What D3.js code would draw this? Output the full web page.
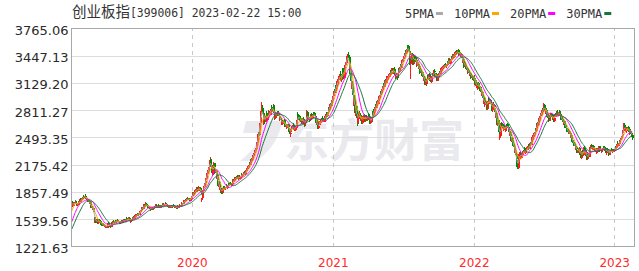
<!DOCTYPE html>
<html>
<head>
<meta charset="utf-8">
<script src="https://cdn.jsdelivr.net/npm/d3@7"></script>
<style>
  body { margin: 0; background: #fff; }
  svg { display: block; }
</style>
</head>
<body>
<svg id="chart" width="639" height="271"></svg>
<script>
// closes before the first visible day, only used to warm up the moving averages
var preCloses = [1262,1255,1240,1258,1266,1250,1230,1245,1263,1290,1335,1348,1372,1368,1352,1402,1390,1396,1405,1455,1560,1548,1536,1566,1612,1668,1702,1738,1748];

// daily candles [open, high, low, close], one list per calendar year
var k2019 = [
[1745,1752,1680,1690],[1692,1720,1685,1712],[1710,1738,1702,1731],[1728,1745,1715,1722],[1720,1735,1698,1730],
[1733,1760,1725,1752],[1750,1758,1712,1718],[1715,1722,1690,1700],[1702,1730,1695,1726],[1724,1731,1698,1705],
[1708,1728,1700,1722],[1720,1752,1716,1748],[1750,1770,1740,1762],[1758,1766,1735,1740],[1742,1768,1738,1765],
[1768,1785,1755,1760],[1762,1790,1758,1786],[1788,1802,1770,1778],[1775,1798,1768,1795],[1797,1812,1788,1806],
[1808,1822,1790,1795],[1792,1815,1785,1812],[1815,1830,1800,1808],[1805,1812,1770,1776],[1778,1798,1768,1792],
[1790,1806,1772,1780],[1776,1782,1738,1745],[1748,1770,1740,1762],[1760,1768,1742,1750],[1752,1758,1712,1720],
[1722,1745,1715,1738],[1735,1742,1700,1706],[1704,1712,1672,1680],[1682,1700,1668,1690],[1688,1692,1650,1658],
[1660,1682,1652,1675],[1672,1680,1638,1645],[1648,1665,1622,1627],[1560,1565,1505,1510],[1515,1540,1500,1532],
[1528,1535,1490,1498],[1500,1530,1495,1525],[1522,1545,1510,1540],[1538,1548,1512,1518],[1515,1520,1485,1490],
[1492,1515,1485,1510],[1512,1532,1505,1528],[1530,1540,1515,1520],[1518,1525,1490,1495],[1496,1508,1478,1482],
[1484,1500,1476,1495],[1493,1498,1466,1470],[1472,1490,1465,1486],[1488,1496,1470,1475],[1474,1480,1455,1460],
[1462,1478,1450,1472],[1470,1482,1458,1463],[1460,1465,1440,1446],[1448,1462,1438,1455],[1452,1458,1432,1438],
[1440,1470,1436,1466],[1470,1500,1465,1495],[1497,1508,1485,1490],[1488,1495,1470,1476],[1478,1486,1462,1470],
[1468,1480,1452,1458],[1460,1468,1440,1447],[1450,1482,1446,1478],[1480,1505,1475,1500],[1502,1512,1490,1495],
[1494,1520,1488,1516],[1518,1530,1505,1510],[1508,1515,1492,1498],[1500,1516,1494,1512],[1514,1530,1508,1525],
[1523,1528,1500,1504],[1506,1520,1498,1515],[1516,1535,1510,1530],[1532,1545,1520,1526],[1524,1530,1505,1510],
[1512,1526,1502,1522],[1520,1524,1498,1502],[1500,1508,1486,1492],[1494,1512,1490,1508],[1510,1528,1505,1524],
[1525,1532,1512,1516],[1514,1520,1496,1500],[1502,1518,1495,1514],[1516,1534,1510,1530],[1532,1545,1522,1540],
[1538,1544,1518,1522],[1520,1528,1505,1510],[1512,1530,1508,1527],[1528,1552,1524,1548],[1550,1560,1535,1540],
[1538,1546,1525,1530],[1532,1550,1528,1546],[1548,1566,1542,1560],[1558,1565,1538,1542],[1540,1548,1520,1525],
[1522,1530,1500,1506],[1505,1520,1490,1515],[1518,1540,1512,1536],[1538,1556,1530,1552],[1554,1570,1546,1565],
[1566,1580,1552,1558],[1555,1562,1538,1545],[1547,1568,1542,1563],[1565,1590,1560,1586],[1588,1605,1578,1598],
[1596,1602,1575,1580],[1578,1590,1565,1585],[1588,1612,1582,1608],[1610,1618,1595,1600],[1598,1605,1580,1588],
[1590,1622,1586,1618],[1620,1640,1612,1635],[1636,1645,1620,1626],[1624,1650,1618,1646],[1648,1672,1642,1668],
[1670,1685,1660,1678],[1676,1682,1652,1660],[1662,1690,1656,1686],[1688,1712,1680,1706],[1708,1722,1695,1700],
[1698,1705,1680,1688],[1690,1716,1684,1712],[1714,1735,1706,1725],[1722,1730,1700,1705],[1703,1712,1685,1692],
[1690,1698,1670,1676],[1678,1700,1672,1696],[1698,1706,1680,1684],[1682,1688,1660,1665],[1667,1680,1650,1656],
[1655,1668,1640,1662],[1664,1672,1645,1650],[1652,1678,1648,1674],[1676,1688,1665,1670],[1668,1675,1648,1655],
[1657,1685,1652,1682],[1684,1698,1676,1692],[1690,1696,1670,1675],[1677,1695,1670,1690],[1692,1712,1686,1705],
[1706,1716,1690,1696],[1694,1700,1675,1680],[1682,1702,1676,1698],[1700,1712,1688,1692],[1690,1694,1668,1672],
[1674,1690,1668,1686],[1688,1705,1682,1700],[1702,1710,1688,1694],[1692,1698,1672,1678],[1680,1696,1674,1690],
[1692,1718,1688,1714],[1716,1732,1708,1724],[1722,1728,1700,1706],[1704,1712,1690,1698],[1700,1722,1695,1718],
[1720,1738,1712,1730],[1728,1734,1708,1712],[1710,1716,1690,1695],[1697,1712,1690,1706],[1708,1714,1688,1692],
[1690,1696,1672,1678],[1680,1698,1676,1694],[1696,1702,1680,1684],[1682,1690,1668,1672],[1674,1692,1670,1688],
[1690,1706,1684,1702],[1704,1710,1690,1694],[1692,1698,1675,1680],[1682,1700,1678,1696],[1698,1712,1692,1708],
[1706,1712,1690,1694],[1692,1696,1670,1674],[1676,1690,1668,1686],[1688,1694,1672,1676],[1674,1680,1660,1666],
[1668,1686,1664,1682],[1684,1700,1680,1696],[1698,1704,1684,1688],[1686,1692,1670,1675],[1677,1698,1672,1694],
[1696,1712,1690,1705],[1703,1708,1686,1690],[1688,1704,1684,1700],[1702,1722,1698,1718],[1720,1735,1712,1728],
[1726,1732,1710,1716],[1718,1745,1714,1740],[1742,1760,1735,1752],[1750,1756,1732,1738],[1740,1768,1736,1764],
[1766,1780,1756,1772],[1770,1776,1752,1758],[1760,1782,1755,1778],[1780,1795,1770,1786],[1784,1790,1762,1768],
[1770,1785,1760,1780],[1782,1792,1765,1770],[1768,1775,1750,1756],[1758,1778,1752,1774],[1776,1790,1768,1784],
[1786,1800,1778,1792],[1790,1805,1782,1798]
];

var k2020 = [
[1810,1845,1805,1840],[1842,1860,1830,1852],[1850,1858,1825,1832],[1830,1852,1822,1848],[1850,1878,1845,1872],
[1870,1880,1850,1858],[1856,1890,1852,1885],[1888,1915,1880,1905],[1903,1910,1880,1886],[1884,1895,1862,1870],
[1872,1898,1866,1894],[1896,1922,1890,1915],[1912,1920,1885,1890],[1888,1908,1870,1902],[1900,1906,1862,1868],
[1866,1875,1838,1845],[1760,1790,1745,1782],[1790,1840,1785,1835],[1838,1875,1832,1870],[1872,1905,1865,1898],
[1900,1925,1890,1918],[1920,1960,1912,1955],[1958,1995,1950,1990],[1992,2020,1980,2012],[2010,2040,1998,2035],
[2038,2075,2030,2070],[2072,2110,2060,2102],[2100,2130,2085,2095],[2098,2150,2090,2145],[2148,2190,2140,2182],
[2185,2230,2175,2215],[2218,2270,2205,2238],[2230,2250,2160,2175],[2170,2180,2080,2090],[2085,2110,2040,2055],
[2065,2130,2060,2125],[2128,2175,2120,2168],[2170,2205,2150,2195],[2192,2200,2140,2150],[2120,2135,2070,2080],
[2085,2120,2075,2110],[2105,2112,2040,2050],[2045,2070,2010,2060],[2055,2065,1990,2000],[1990,2010,1930,1945],
[1950,1990,1920,1975],[1970,1980,1890,1898],[1895,1925,1875,1912],[1905,1912,1850,1860],[1866,1905,1858,1898],
[1892,1898,1845,1852],[1848,1870,1836,1845],[1850,1905,1846,1900],[1905,1930,1890,1922],[1918,1925,1880,1888],
[1885,1915,1878,1910],[1908,1925,1895,1902],[1900,1915,1880,1912],[1915,1948,1910,1940],[1942,1955,1925,1932],
[1930,1940,1905,1915],[1912,1925,1895,1920],[1922,1955,1918,1950],[1952,1968,1935,1945],[1943,1960,1928,1955],
[1956,1975,1945,1968],[1966,1972,1940,1948],[1946,1958,1925,1932],[1930,1952,1924,1948],[1950,1985,1945,1980],
[1982,2005,1975,1998],[1996,2010,1975,1985],[1983,2015,1978,2010],[2012,2035,2005,2025],[2023,2030,2000,2008],
[2006,2018,1990,2015],[2018,2045,2012,2040],[2042,2055,2025,2032],[2030,2038,2005,2012],[2010,2028,2002,2022],
[2025,2050,2018,2045],[2046,2060,2030,2036],[2034,2040,2010,2018],[2016,2048,2012,2044],[2046,2072,2040,2068],
[2070,2080,2050,2058],[2056,2062,2030,2040],[2042,2070,2038,2066],[2068,2092,2060,2085],[2087,2098,2068,2075],
[2073,2080,2052,2060],[2062,2090,2058,2088],[2090,2118,2084,2112],[2114,2125,2095,2102],[2100,2135,2096,2130],
[2132,2155,2125,2148],[2150,2162,2130,2138],[2136,2170,2132,2165],[2168,2195,2160,2188],[2190,2205,2170,2180],
[2178,2215,2172,2210],[2212,2245,2205,2238],[2240,2255,2220,2232],[2230,2272,2225,2265],[2268,2295,2258,2288],
[2290,2302,2268,2275],[2272,2318,2268,2312],[2315,2345,2305,2338],[2340,2352,2318,2325],[2322,2368,2318,2362],
[2365,2392,2355,2385],[2388,2440,2380,2432],[2435,2490,2428,2482],[2485,2535,2475,2528],[2530,2560,2505,2518],
[2520,2585,2512,2578],[2582,2660,2575,2652],[2658,2745,2650,2735],[2740,2800,2715,2785],[2790,2860,2775,2812],
[2815,2905,2800,2845],[2840,2870,2770,2790],[2785,2800,2640,2652],[2660,2720,2650,2712],[2715,2760,2700,2748],
[2745,2752,2660,2675],[2680,2740,2672,2730],[2735,2795,2725,2780],[2782,2800,2735,2748],[2745,2760,2690,2702],
[2705,2745,2698,2738],[2740,2785,2732,2775],[2778,2810,2760,2795],[2792,2805,2750,2762],[2760,2795,2752,2788],
[2790,2830,2782,2822],[2825,2860,2810,2848],[2850,2875,2820,2830],[2828,2845,2790,2805],[2808,2885,2800,2870],
[2865,2880,2780,2792],[2788,2800,2700,2712],[2715,2760,2705,2752],[2755,2790,2740,2778],[2780,2795,2740,2750],
[2748,2770,2720,2765],[2768,2800,2755,2790],[2792,2805,2760,2772],[2770,2790,2745,2782],[2785,2800,2740,2748],
[2745,2752,2690,2700],[2702,2730,2690,2722],[2725,2745,2695,2705],[2700,2710,2650,2660],[2662,2690,2640,2682],
[2685,2700,2640,2650],[2648,2680,2635,2672],[2675,2700,2660,2690],[2692,2705,2655,2662],[2660,2668,2615,2625],
[2628,2660,2620,2652],[2655,2672,2628,2635],[2632,2640,2590,2600],[2602,2630,2595,2622],[2625,2650,2612,2640],
[2642,2655,2605,2612],[2610,2615,2555,2565],[2568,2600,2560,2590],[2592,2598,2530,2540],[2535,2560,2500,2550],
[2552,2595,2545,2588],[2590,2625,2580,2615],[2618,2632,2592,2600],[2598,2640,2590,2632],[2635,2660,2620,2628],
[2625,2632,2585,2595],[2592,2615,2570,2608],[2610,2625,2575,2582],[2580,2612,2572,2605],[2608,2640,2600,2635],
[2640,2700,2635,2692],[2695,2770,2690,2762],[2765,2790,2735,2745],[2742,2760,2700,2712],[2710,2738,2690,2728],
[2730,2752,2695,2702],[2700,2725,2680,2718],[2720,2740,2690,2695],[2692,2700,2650,2660],[2662,2690,2652,2682],
[2685,2720,2675,2712],[2715,2730,2690,2698],[2695,2700,2655,2665],[2662,2675,2620,2632],[2635,2668,2628,2660],
[2662,2700,2655,2692],[2695,2765,2690,2755],[2760,2810,2748,2790],[2792,2800,2720,2732],[2730,2745,2690,2705],
[2702,2730,2695,2725],[2728,2745,2700,2710],[2708,2720,2680,2690],[2692,2735,2688,2730],[2732,2770,2725,2762],
[2765,2780,2738,2748],[2745,2760,2715,2722],[2720,2752,2712,2745],[2748,2775,2740,2768],[2770,2790,2750,2758],
[2755,2780,2745,2775],[2778,2795,2740,2750],[2748,2755,2700,2708],[2705,2712,2660,2668],[2665,2690,2640,2682],
[2685,2692,2630,2638],[2635,2640,2590,2602],[2605,2640,2598,2632],[2635,2662,2625,2655],[2658,2680,2640,2648],
[2645,2690,2640,2685],[2688,2712,2670,2702],[2705,2718,2675,2680],[2678,2705,2668,2700],[2702,2730,2695,2722],
[2725,2740,2700,2708],[2705,2712,2670,2678],[2675,2712,2670,2708],[2710,2742,2705,2738],[2740,2760,2722,2735],
[2732,2770,2728,2765],[2768,2790,2745,2752],[2750,2762,2720,2745],[2748,2795,2742,2790],[2792,2830,2785,2822],
[2825,2850,2805,2815],[2812,2860,2808,2855],[2858,2890,2845,2882],[2885,2895,2850,2862],[2860,2905,2855,2898],
[2900,2935,2890,2925],[2928,2945,2900,2915],[2918,2972,2910,2966]
];

var k2021 = [
[2975,3010,2950,2990],[2992,3040,2980,3032],[3035,3060,3010,3020],[3018,3080,3012,3075],[3078,3110,3050,3062],
[3060,3115,3048,3105],[3108,3150,3095,3140],[3142,3160,3100,3112],[3110,3175,3105,3168],[3170,3210,3150,3195],
[3192,3220,3160,3175],[3172,3240,3168,3232],[3235,3268,3210,3222],[3220,3230,3150,3162],[3160,3210,3140,3205],
[3208,3290,3200,3282],[3285,3310,3250,3268],[3265,3300,3220,3240],[3238,3260,3180,3195],[3192,3280,3188,3272],
[3275,3345,3265,3338],[3340,3380,3320,3362],[3365,3400,3340,3392],[3395,3440,3380,3428],[3430,3455,3400,3418],
[3420,3465,3405,3452],[3455,3490,3420,3432],[3430,3445,3330,3345],[3340,3355,3240,3255],[3250,3300,3200,3290],
[3285,3298,3150,3162],[3158,3200,3090,3105],[3100,3150,3060,3138],[3135,3142,2990,3000],[2995,3020,2890,2905],
[2900,2960,2860,2948],[2950,2985,2900,2912],[2905,2920,2780,2795],[2790,2830,2740,2818],[2820,2880,2790,2860],
[2862,2870,2720,2735],[2730,2760,2630,2652],[2660,2768,2655,2760],[2762,2780,2700,2712],[2708,2790,2700,2782],
[2785,2800,2740,2752],[2750,2765,2690,2702],[2700,2745,2685,2738],[2740,2760,2700,2710],[2705,2712,2650,2660],
[2662,2720,2655,2712],[2715,2740,2690,2728],[2730,2760,2710,2752],[2755,2770,2720,2735],[2732,2740,2680,2690],
[2688,2720,2675,2712],[2715,2750,2705,2742],[2745,2760,2715,2728],[2725,2735,2690,2698],[2695,2740,2690,2735],
[2738,2770,2725,2762],[2765,2780,2730,2740],[2738,2745,2690,2700],[2698,2705,2650,2662],[2660,2700,2655,2695],
[2698,2712,2670,2680],[2682,2735,2678,2730],[2732,2780,2725,2772],[2775,2800,2750,2762],[2760,2805,2752,2798],
[2800,2830,2775,2785],[2782,2845,2778,2838],[2840,2872,2820,2865],[2868,2880,2830,2842],[2840,2890,2835,2885],
[2888,2925,2870,2915],[2918,2930,2880,2892],[2890,2945,2885,2940],[2942,2975,2925,2968],[2970,2985,2930,2945],
[2942,2990,2935,2985],[2988,3030,2975,3022],[3025,3040,2990,3005],[3002,3060,2998,3055],[3058,3085,3035,3048],
[3045,3090,3040,3082],[3085,3120,3070,3110],[3112,3128,3075,3088],[3085,3140,3080,3135],[3138,3170,3120,3160],
[3162,3175,3120,3132],[3130,3180,3125,3172],[3175,3210,3160,3198],[3200,3215,3160,3170],[3168,3215,3160,3208],
[3210,3240,3190,3225],[3228,3240,3190,3198],[3195,3250,3188,3245],[3248,3280,3230,3268],[3270,3285,3235,3242],
[3240,3275,3225,3262],[3265,3305,3250,3295],[3298,3310,3265,3275],[3272,3290,3240,3252],[3250,3300,3245,3292],
[3295,3320,3270,3280],[3278,3285,3225,3235],[3232,3240,3180,3192],[3190,3235,3185,3228],[3230,3245,3195,3205],
[3202,3215,3170,3198],[3200,3250,3195,3245],[3248,3290,3240,3282],[3285,3300,3255,3268],[3265,3320,3260,3315],
[3318,3345,3300,3330],[3332,3348,3300,3312],[3310,3360,3305,3355],[3358,3395,3345,3385],[3388,3400,3360,3372],
[3370,3415,3365,3408],[3410,3450,3400,3440],[3442,3460,3410,3425],[3422,3475,3418,3468],[3470,3505,3455,3492],
[3495,3510,3460,3478],[3475,3530,3470,3522],[3525,3560,3505,3545],[3548,3570,3512,3525],[3522,3575,3515,3562],
[3565,3572,3500,3510],[3508,3520,3440,3455],[3450,3465,3340,3360],[3355,3400,3180,3372],[3375,3440,3365,3430],
[3432,3480,3420,3462],[3465,3478,3400,3412],[3410,3425,3340,3352],[3350,3420,3345,3410],[3412,3445,3395,3438],
[3440,3455,3390,3402],[3400,3440,3385,3428],[3430,3445,3370,3380],[3378,3390,3320,3332],[3330,3375,3322,3368],
[3370,3395,3340,3350],[3348,3360,3290,3302],[3300,3340,3290,3330],[3332,3345,3280,3290],[3288,3300,3240,3250],
[3252,3300,3245,3292],[3295,3310,3260,3270],[3268,3275,3215,3225],[3222,3260,3210,3250],[3252,3262,3200,3208],
[3205,3215,3160,3170],[3168,3200,3155,3192],[3195,3210,3150,3162],[3160,3168,3110,3122],[3120,3160,3105,3152],
[3155,3165,3100,3115],[3112,3175,3108,3168],[3170,3210,3160,3200],[3202,3220,3175,3185],[3182,3235,3178,3228],
[3230,3245,3190,3198],[3195,3205,3150,3160],[3158,3195,3150,3188],[3190,3200,3140,3148],[3145,3170,3125,3162],
[3165,3210,3158,3205],[3208,3250,3200,3242],[3245,3262,3220,3232],[3230,3280,3225,3272],[3275,3290,3240,3252],
[3250,3260,3205,3215],[3212,3240,3200,3235],[3238,3250,3190,3198],[3195,3200,3150,3160],[3158,3195,3150,3190],
[3192,3220,3180,3212],[3215,3240,3195,3205],[3202,3250,3198,3245],[3248,3270,3225,3235],[3232,3275,3228,3268],
[3270,3300,3255,3292],[3295,3305,3262,3272],[3270,3315,3265,3310],[3312,3330,3290,3298],[3295,3325,3285,3320],
[3322,3345,3305,3335],[3338,3350,3310,3318],[3315,3340,3300,3332],[3335,3360,3320,3350],[3352,3365,3320,3328],
[3325,3350,3310,3342],[3345,3380,3338,3372],[3375,3390,3345,3355],[3352,3395,3348,3388],[3390,3420,3378,3410],
[3412,3425,3380,3392],[3390,3400,3350,3362],[3360,3405,3355,3398],[3400,3430,3390,3422],[3425,3440,3400,3412],
[3410,3450,3405,3442],[3445,3470,3430,3455],[3458,3465,3420,3430],[3428,3470,3420,3465],[3468,3495,3455,3482],
[3485,3498,3450,3460],[3458,3495,3450,3488],[3490,3520,3475,3505],[3508,3515,3470,3480],[3478,3510,3470,3500],
[3502,3525,3485,3492],[3490,3500,3450,3462],[3460,3498,3455,3490],[3492,3515,3470,3478],[3475,3482,3430,3440],
[3438,3475,3430,3468],[3470,3480,3420,3428],[3425,3430,3370,3380],[3378,3410,3365,3402],[3405,3420,3360,3368],
[3365,3375,3310,3322],[3320,3360,3312,3352],[3355,3380,3335,3345],[3342,3350,3290,3302],[3300,3330,3282,3318],
[3320,3335,3280,3290],[3288,3295,3240,3252],[3250,3285,3242,3278],[3280,3300,3250,3262],[3260,3268,3210,3220],
[3218,3255,3210,3248],[3250,3262,3220,3230],[3228,3235,3180,3192],[3190,3225,3182,3218],[3220,3240,3195,3205],
[3202,3210,3160,3172],[3170,3200,3158,3192],[3195,3215,3175,3185]
];

var k2022 = [
[3190,3220,3150,3168],[3165,3175,3110,3122],[3120,3150,3095,3142],[3145,3160,3080,3090],[3088,3120,3070,3112],
[3115,3130,3060,3068],[3065,3100,3050,3095],[3098,3140,3090,3130],[3132,3145,3085,3092],[3090,3110,3040,3050],
[3048,3085,3035,3078],[3080,3095,3030,3040],[3038,3045,2980,2992],[2990,3030,2975,3022],[3025,3040,2960,2972],
[2970,2980,2900,2912],[2910,2950,2880,2940],[2942,2955,2870,2880],[2878,2905,2850,2895],[2900,2930,2870,2920],
[2922,2950,2880,2892],[2890,2900,2820,2830],[2828,2880,2815,2872],[2875,2925,2865,2918],[2920,2960,2905,2948],
[2950,2965,2915,2925],[2922,2930,2880,2890],[2888,2935,2880,2930],[2932,2945,2890,2898],[2895,2900,2840,2852],
[2850,2880,2800,2812],[2810,2860,2795,2850],[2852,2890,2840,2882],[2885,2905,2860,2870],[2868,2880,2835,2848],
[2840,2850,2790,2798],[2795,2805,2730,2742],[2740,2790,2725,2782],[2785,2798,2700,2710],[2705,2720,2640,2655],
[2650,2700,2630,2690],[2692,2712,2640,2650],[2660,2670,2560,2568],[2565,2575,2480,2492],[2488,2530,2470,2502],
[2510,2600,2505,2592],[2600,2665,2595,2658],[2655,2670,2615,2625],[2622,2660,2610,2652],[2655,2668,2600,2610],
[2608,2625,2570,2582],[2580,2630,2575,2622],[2625,2640,2590,2598],[2595,2612,2560,2572],[2570,2615,2562,2608],
[2610,2650,2600,2640],[2642,2655,2610,2618],[2615,2660,2605,2652],[2655,2668,2610,2620],[2618,2625,2560,2572],
[2570,2580,2520,2535],[2532,2560,2510,2550],[2552,2565,2500,2508],[2505,2515,2450,2462],[2460,2500,2445,2490],
[2492,2505,2440,2452],[2450,2460,2390,2398],[2395,2430,2380,2425],[2428,2440,2380,2392],[2390,2398,2320,2330],
[2328,2360,2310,2350],[2352,2365,2290,2302],[2300,2310,2230,2240],[2235,2255,2150,2168],[2165,2210,2130,2200],
[2195,2205,2120,2135],[2140,2230,2125,2222],[2225,2300,2215,2290],[2295,2325,2270,2315],[2312,2320,2260,2272],
[2270,2295,2245,2288],[2290,2310,2255,2262],[2260,2300,2250,2295],[2298,2335,2290,2328],[2330,2345,2300,2310],
[2308,2340,2295,2335],[2338,2375,2330,2368],[2370,2385,2340,2350],[2348,2355,2300,2312],[2310,2345,2302,2340],
[2342,2380,2335,2375],[2378,2392,2350,2360],[2358,2400,2350,2395],[2398,2420,2380,2388],[2385,2395,2350,2362],
[2360,2400,2355,2396],[2400,2435,2390,2428],[2430,2445,2400,2412],[2410,2460,2405,2455],[2458,2495,2450,2488],
[2490,2505,2460,2472],[2470,2520,2465,2515],[2518,2545,2505,2538],[2540,2552,2505,2512],[2510,2560,2505,2555],
[2558,2600,2550,2592],[2595,2610,2565,2578],[2575,2630,2570,2625],[2628,2665,2620,2658],[2660,2675,2630,2640],
[2638,2690,2632,2682],[2685,2720,2675,2712],[2715,2730,2680,2692],[2690,2750,2685,2745],[2748,2785,2740,2778],
[2780,2795,2750,2762],[2760,2810,2755,2802],[2805,2830,2785,2815],[2818,2840,2790,2800],[2798,2860,2792,2852],
[2855,2895,2840,2872],[2870,2885,2830,2842],[2840,2850,2790,2800],[2798,2820,2770,2812],[2815,2825,2770,2778],
[2775,2790,2730,2742],[2740,2770,2725,2762],[2765,2780,2720,2730],[2728,2735,2680,2692],[2690,2730,2682,2722],
[2725,2760,2715,2752],[2755,2770,2730,2740],[2738,2775,2732,2768],[2770,2785,2740,2748],[2745,2752,2700,2712],
[2710,2745,2702,2738],[2740,2760,2715,2725],[2722,2730,2680,2690],[2688,2730,2680,2725],[2728,2765,2720,2758],
[2760,2775,2735,2745],[2742,2780,2738,2772],[2775,2800,2760,2790],[2792,2810,2770,2778],[2775,2785,2740,2752],
[2750,2790,2745,2782],[2785,2805,2765,2795],[2798,2810,2770,2775],[2772,2780,2730,2738],[2735,2745,2695,2705],
[2702,2740,2695,2732],[2735,2748,2700,2712],[2710,2720,2670,2680],[2678,2700,2640,2652],[2650,2690,2642,2685],
[2688,2700,2650,2660],[2658,2665,2610,2620],[2618,2650,2605,2642],[2645,2655,2600,2610],[2608,2615,2560,2572],
[2570,2600,2555,2592],[2595,2610,2560,2568],[2565,2580,2530,2545],[2542,2575,2535,2570],[2572,2585,2540,2550],
[2548,2555,2500,2510],[2508,2530,2485,2522],[2525,2535,2480,2490],[2488,2495,2440,2452],[2450,2475,2435,2468],
[2470,2480,2430,2440],[2438,2445,2395,2405],[2402,2435,2395,2428],[2430,2440,2390,2398],[2395,2400,2350,2362],
[2360,2392,2352,2385],[2388,2395,2345,2355],[2352,2360,2310,2320],[2318,2350,2310,2345],[2348,2365,2325,2332],
[2330,2372,2322,2365],[2368,2378,2340,2352],[2345,2350,2290,2298],[2295,2305,2250,2262],[2260,2290,2240,2282],
[2285,2335,2280,2328],[2330,2345,2300,2310],[2308,2320,2280,2290],[2288,2340,2282,2335],[2338,2380,2330,2372],
[2375,2390,2340,2348],[2345,2352,2300,2312],[2310,2330,2280,2322],[2325,2335,2270,2280],[2278,2285,2235,2248],
[2245,2270,2230,2262],[2265,2300,2255,2295],[2298,2310,2265,2272],[2270,2330,2265,2325],[2328,2385,2320,2378],
[2380,2395,2350,2360],[2358,2410,2352,2402],[2405,2420,2375,2385],[2382,2390,2345,2352],[2350,2380,2342,2372],
[2375,2402,2365,2395],[2398,2410,2370,2378],[2375,2385,2340,2348],[2346,2372,2338,2365],[2368,2375,2330,2338],
[2335,2342,2300,2312],[2310,2345,2305,2340],[2342,2360,2320,2330],[2328,2370,2322,2365],[2368,2395,2360,2388],
[2390,2400,2360,2368],[2365,2372,2330,2342],[2340,2370,2335,2362],[2365,2380,2345,2352],[2350,2358,2315,2325],
[2322,2352,2318,2348],[2350,2375,2340,2370],[2372,2395,2362,2388],[2390,2400,2370,2378],[2375,2380,2340,2348],
[2346,2375,2340,2368],[2370,2378,2340,2345],[2342,2350,2310,2318],[2316,2330,2295,2325],[2328,2360,2320,2355],
[2358,2370,2335,2342],[2340,2348,2300,2308],[2305,2315,2280,2295],[2292,2325,2288,2320],[2322,2345,2312,2338],
[2340,2352,2320,2328],[2325,2360,2320,2355],[2358,2372,2340,2350],[2348,2355,2320,2330],[2328,2345,2315,2340],
[2342,2362,2330,2335],[2338,2355,2325,2346]
];

var k2023 = [
[2340,2365,2320,2358],[2360,2385,2350,2378],[2380,2392,2360,2370],[2368,2412,2362,2405],[2408,2440,2400,2432],
[2435,2450,2415,2425],[2422,2430,2395,2402],[2400,2420,2390,2415],[2418,2455,2412,2448],[2450,2470,2435,2460],
[2462,2492,2455,2485],[2488,2498,2468,2478],[2480,2512,2475,2505],[2508,2540,2500,2532],[2545,2580,2530,2565],
[2568,2620,2560,2610],[2612,2665,2605,2640],[2642,2660,2610,2620],[2615,2625,2570,2582],[2580,2600,2555,2592],
[2595,2610,2560,2568],[2565,2590,2548,2585],[2588,2620,2578,2610],[2612,2625,2580,2590],[2588,2598,2555,2565],
[2562,2575,2530,2545],[2542,2560,2520,2552],[2555,2580,2545,2572],[2575,2590,2540,2550],[2548,2555,2500,2512],
[2510,2530,2480,2522],[2520,2528,2470,2482]
];

var yTicks = [3765.06, 3447.13, 3129.20, 2811.27, 2493.35, 2175.42, 1857.49, 1539.56, 1221.63];
var yearLabels = ['2020', '2021', '2022', '2023'];
var maPeriods = [5, 10, 20, 30];
var maNames = ['5PMA', '10PMA', '20PMA', '30PMA'];
var maColors = ['#a9a9a9', '#ffa500', '#ff00ff', '#0f7a35'];

var W = 639, H = 271;
var plot = { left: 71.5, right: 634.5, top: 28.5, bottom: 246.5 };
var upColor = '#ff1a1a', downColor = '#008a00';

var years = [k2019, k2020, k2021, k2022, k2023];
var candles = [];
var yearStarts = [];
years.forEach(function(list, j) {
  if (j > 0) yearStarts.push(candles.length);
  list.forEach(function(d) {
    candles.push({ i: candles.length, o: d[0], h: d[1], l: d[2], c: d[3] });
  });
});

var allCloses = preCloses.concat(candles.map(function(d) { return d.c; }));
var off = preCloses.length;
var maData = maPeriods.map(function(p) {
  return candles.map(function(d) {
    var s = allCloses.slice(off + d.i - p + 1, off + d.i + 1);
    return { i: d.i, v: d3.mean(s) };
  });
});

var svg = d3.select('#chart');
svg.append('rect').attr('width', W).attr('height', H).attr('fill', '#fff');

var x = d3.scaleLinear().domain([-0.5, 970]).range([plot.left, plot.right]);
var y = d3.scaleLinear().domain([yTicks[yTicks.length - 1], yTicks[0]]).range([plot.bottom, plot.top]);

// watermark
var wm = svg.append('g').attr('fill', '#e9e9ee');
wm.append('path')
  .attr('d', 'M246,121 L283,121 L279,133 Q272,151 256,161 L240,161 Q256,149 262,133 L243,133 Z');
wm.append('text')
  .attr('x', 284).attr('y', 157)
  .attr('font-family', 'Noto Sans CJK SC')
  .attr('font-weight', 'bold')
  .attr('font-size', 45)
  .text('东方财富');

// horizontal grid and y labels
var yAxis = d3.axisLeft(y).tickValues(yTicks).tickFormat(d3.format('.2f')).tickSize(0).tickPadding(3);
var gy = svg.append('g').attr('transform', 'translate(' + plot.left + ',0)').call(yAxis);
gy.select('.domain').remove();
gy.selectAll('text')
  .attr('font-family', 'DejaVu Sans')
  .attr('font-size', 13)
  .attr('fill', '#2a2a2a')
  .attr('dy', '0.45em');
var yGrid = d3.axisLeft(y).tickValues(yTicks.slice(1, -1)).tickSize(-(plot.right - plot.left)).tickFormat('');
var gg = svg.append('g').attr('transform', 'translate(' + plot.left + ',0)').call(yGrid);
gg.select('.domain').remove();
gg.selectAll('line').attr('stroke', '#dcdcdc').attr('shape-rendering', 'crispEdges');

// year grid and labels
var xAxis = d3.axisBottom(x).tickValues(yearStarts)
  .tickFormat(function(d, k) { return yearLabels[k]; })
  .tickSize(-(plot.bottom - plot.top)).tickPadding(12);
var gx = svg.append('g').attr('transform', 'translate(0,' + plot.bottom + ')').call(xAxis);
gx.select('.domain').remove();
gx.selectAll('line')
  .attr('stroke', '#c8c8c8')
  .attr('stroke-dasharray', '4,4')
  .attr('shape-rendering', 'crispEdges');
gx.selectAll('text')
  .attr('font-family', 'DejaVu Sans')
  .attr('font-size', 12)
  .attr('fill', '#ff2a2a');

// candles: 1px wick, 2px body, later days drawn over earlier ones
var gc = svg.append('g').attr('shape-rendering', 'crispEdges');
var candle = gc.selectAll('g').data(candles).enter().append('g')
  .attr('fill', function(d) { return d.c >= d.o ? upColor : downColor; });
candle.append('rect')
  .attr('x', function(d) { return Math.round(x(d.i)); })
  .attr('width', 1)
  .attr('y', function(d) { return y(d.h); })
  .attr('height', function(d) { return Math.max(1, y(d.l) - y(d.h)); });
candle.append('rect')
  .attr('x', function(d) { return Math.round(x(d.i)) - 0.5; })
  .attr('width', 2)
  .attr('y', function(d) { return y(Math.max(d.o, d.c)); })
  .attr('height', function(d) { return Math.max(1, Math.abs(y(d.o) - y(d.c))); });

// moving averages
var line = d3.line().x(function(d) { return x(d.i); }).y(function(d) { return y(d.v); });
svg.append('g').selectAll('path').data(maData).enter().append('path')
  .attr('d', line)
  .attr('fill', 'none')
  .attr('stroke', function(d, k) { return maColors[k]; })
  .attr('stroke-width', 1);

// frame
svg.append('rect')
  .attr('x', plot.left).attr('y', plot.top)
  .attr('width', plot.right - plot.left).attr('height', plot.bottom - plot.top)
  .attr('fill', 'none').attr('stroke', '#a8a8a8').attr('shape-rendering', 'crispEdges');

// title
var title = svg.append('text').attr('x', 72).attr('y', 17).attr('fill', '#333');
title.append('tspan').attr('font-family', 'Noto Sans CJK SC').attr('font-size', 14.5).text('创业板指');
title.append('tspan').attr('font-family', 'DejaVu Sans Mono').attr('font-size', 11.4).text('[399006] 2023-02-22 15:00');

// legend
var lx = 405;
var lg = svg.append('g');
maNames.forEach(function(name, k) {
  var t = lg.append('text').attr('x', lx).attr('y', 18)
    .attr('font-family', 'DejaVu Sans Mono').attr('font-size', 12).attr('fill', '#333')
    .text(name);
  var w = t.node().getComputedTextLength();
  lg.append('rect').attr('x', lx + w + 2).attr('y', 12).attr('width', 7).attr('height', 3)
    .attr('fill', maColors[k]);
  lx += w + 2 + 7 + 11;
});
</script>
</body>
</html>
